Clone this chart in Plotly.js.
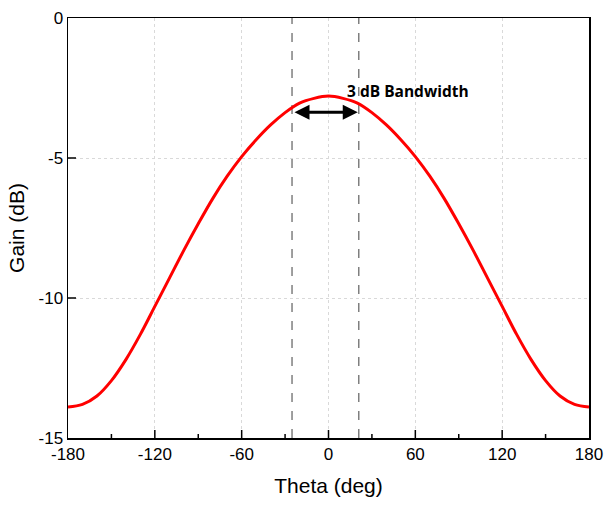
<!DOCTYPE html>
<html>
<head>
<meta charset="utf-8">
<script src="https://cdn.plot.ly/plotly-3.0.1.min.js"></script>
<style>html,body{margin:0;padding:0;background:#fff;}#chart{width:604px;height:505px;}</style>
</head>
<body>
<div id="chart"></div>
<script>
// Data
const theta = [-180,-170,-160,-150,-140,-130,-120,-110,-100,-90,-80,-70,-60,-50,-40,-30,-20,-10,0,10,20,30,40,50,60,70,80,90,100,110,120,130,140,150,160,170,180];
const gain  = [-13.89,-13.8,-13.5,-12.95,-12.2,-11.3,-10.3,-9.3,-8.3,-7.35,-6.45,-5.65,-4.95,-4.35,-3.82,-3.38,-3.04,-2.87,-2.79,-2.87,-3.04,-3.38,-3.82,-4.35,-4.95,-5.65,-6.45,-7.35,-8.3,-9.3,-10.3,-11.3,-12.2,-12.95,-13.5,-13.8,-13.89];
const bandEdges = [-25.2, 20.9];      // dashed marker lines (deg)
const arrowGain = -3.37;               // level of the double arrow (dB)
const bandLabel = '3 dB Bandwidth';
const xTicks = [-180,-120,-60,0,60,120,180];
const xMinor = [-150,-90,-30,30,90,150];
const yTicks = [-15,-10,-5,0];

const trace = {
  x: theta, y: gain, type: 'scatter', mode: 'lines',
  line: {color: '#ff0000', width: 3, shape: 'spline', smoothing: 1.0},
  hoverinfo: 'skip', showlegend: false
};

const tickLine = {color: '#000000', width: 1.5};
const shapes = bandEdges.map(v => ({
  type: 'line', xref: 'x', yref: 'paper', x0: v, x1: v, y0: 0, y1: 1,
  line: {color: '#7f7f7f', width: 1.5, dash: 'dash'}, layer: 'below'
}))
.concat(xTicks.slice(1, -1).map(v => ({
  type: 'line', xref: 'x', yref: 'paper', ysizemode: 'pixel', yanchor: 0,
  x0: v, x1: v, y0: 0, y1: 8, line: tickLine, layer: 'above'
})))
.concat(xMinor.map(v => ({
  type: 'line', xref: 'x', yref: 'paper', ysizemode: 'pixel', yanchor: 0,
  x0: v, x1: v, y0: 0, y1: 4, line: tickLine, layer: 'above'
})))
.concat(yTicks.slice(1, -1).map(v => ({
  type: 'line', xref: 'paper', yref: 'y', xsizemode: 'pixel', xanchor: 0,
  x0: 0, x1: 8, y0: v, y1: v, line: tickLine, layer: 'above'
})));

const annotations = [
  {x: bandEdges[1], y: arrowGain, ax: bandEdges[0], ay: arrowGain, xref: 'x', yref: 'y', axref: 'x', ayref: 'y',
   text: '', showarrow: true, arrowhead: 2, startarrowhead: 2, arrowside: 'end+start',
   arrowwidth: 3, arrowsize: 1, startarrowsize: 1, arrowcolor: '#000000', standoff: 1, startstandoff: 1},
  {x: 11.6, y: -2.61, xref: 'x', yref: 'y', xanchor: 'left', yanchor: 'middle',
   text: '<b>' + bandLabel + '</b>', showarrow: false,
   font: {family: 'Open Sans, sans-serif', size: 15.5, color: '#000000'}}
];

const tickFont = {family: 'Liberation Sans, Arial, sans-serif', size: 17, color: '#000000'};
const titleFont = {family: 'Liberation Sans, Arial, sans-serif', size: 21, color: '#000000'};

const layout = {
  width: 604, height: 505,
  margin: {l: 68, r: 15, t: 18, b: 67},
  paper_bgcolor: '#ffffff', plot_bgcolor: '#ffffff',
  xaxis: {
    range: [-180, 180], tickmode: 'array', tickvals: xTicks, ticktext: xTicks.map(String),
    showline: true, linecolor: '#000000', linewidth: 1.5, mirror: true, ticks: '',
    showgrid: true, gridcolor: '#d9d9d9', griddash: 'dot', gridwidth: 1, zeroline: false,
    tickfont: tickFont,
    title: {text: 'Theta (deg)', font: titleFont, standoff: 15}
  },
  yaxis: {
    range: [-15, 0], tickmode: 'array', tickvals: yTicks, ticktext: yTicks.map(String),
    showline: true, linecolor: '#000000', linewidth: 1.5, mirror: true, ticks: '',
    showgrid: true, gridcolor: '#d9d9d9', griddash: 'dot', gridwidth: 1, zeroline: false,
    tickfont: tickFont,
    title: {text: 'Gain (dB)', font: titleFont, standoff: 8}
  },
  shapes: shapes,
  annotations: annotations,
  showlegend: false
};

Plotly.newPlot('chart', [trace], layout, {displayModeBar: false, staticPlot: true});
</script>
</body>
</html>
